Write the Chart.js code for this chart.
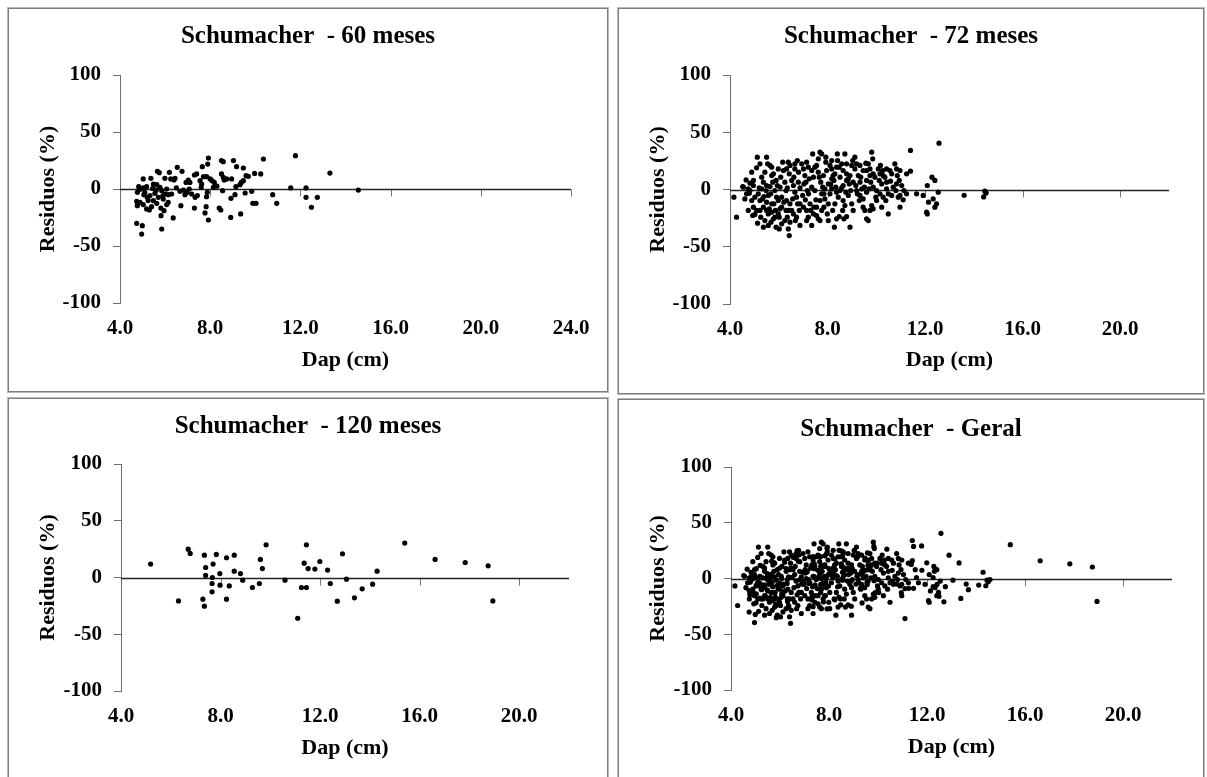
<!DOCTYPE html>
<html lang="pt">
<head>
<meta charset="utf-8">
<title>Schumacher - resíduos por Dap</title>
<script src="https://cdn.jsdelivr.net/npm/chart.js@4.4.1/dist/chart.umd.min.js"></script>
<style>
  html, body { margin: 0; padding: 0; background: #fff; }
  body { width: 1207px; height: 777px; position: relative; overflow: hidden; }
  .painel {
    position: absolute;
    box-sizing: border-box;
    border: 1px solid #b8b8b8;
    box-shadow: inset 0 0 0 1px #7c7c7c;
    background: #fff;
  }
  .painel canvas { position: absolute; left: 1px; top: 1px; }
</style>
</head>
<body>
<div class="painel" id="p60"><canvas id="c60"></canvas></div>
<div class="painel" id="p72"><canvas id="c72"></canvas></div>
<div class="painel" id="p120"><canvas id="c120"></canvas></div>
<div class="painel" id="pGeral"><canvas id="cGeral"></canvas></div>

<script>
// Resíduos (%) do modelo de Schumacher contra o Dap (cm), por idade.
// Cada ponto: [dap, residuo]

const RES_60 = [
  [7.92, 27.2], [7.89, 21.9], [7.65, 19.6], [8.50, 24.9], [8.58, 24.0], [9.03, 24.9], [9.17, 19.6],
  [9.47, 18.4], [10.36, 26.3], [11.78, 29.2], [13.31, 14.0], [6.54, 19.0], [6.75, 15.5], [6.19, 14.6],
  [5.66, 15.5], [5.74, 14.3], [5.37, 9.4], [5.03, 8.8], [9.97, 13.7], [10.24, 13.2], [9.59, 11.7],
  [9.69, 11.1], [8.50, 13.2], [8.58, 10.2], [8.62, 7.9], [8.73, 8.8], [8.95, 8.8], [7.30, 12.3],
  [7.40, 13.2], [7.03, 7.9], [6.93, 5.8], [7.10, 5.8], [7.70, 10.8], [7.84, 10.8], [8.00, 8.8],
  [8.08, 7.3], [8.18, 5.8], [7.55, 7.3], [7.62, 4.4], [6.25, 8.8], [6.39, 7.9], [6.44, 9.4],
  [5.99, 9.4], [9.38, 5.8], [9.47, 7.3], [9.32, 3.8], [9.14, 2.0], [11.57, 0.9], [12.25, 0.9],
  [14.57, -0.9], [4.83, 2.0], [4.89, -0.3], [4.77, -2.9], [5.03, 0.9], [5.18, 2.0], [5.48, 4.4],
  [5.63, 3.8], [5.77, 1.5], [5.85, -1.5], [6.00, -4.4], [6.14, -5.0], [6.29, -4.4], [6.66, -2.0],
  [6.81, -0.9], [6.88, -5.0], [6.98, -2.9], [7.07, 0.0], [7.18, -4.4], [7.33, -7.3], [7.43, -5.8],
  [7.84, -6.7], [7.87, -2.9], [8.14, 1.5], [8.55, -1.5], [8.92, -8.2], [9.10, -5.0], [9.55, -3.5],
  [9.84, -2.0], [9.89, -12.6], [10.03, -12.6], [10.77, -5.0], [10.95, -12.6], [12.25, -7.3],
  [12.75, -7.3], [12.49, -16.0], [4.74, -10.8], [4.77, -14.6], [4.89, -11.7], [5.03, -13.7],
  [5.18, -17.5], [5.30, -18.4], [5.40, -15.5], [5.48, -10.2], [5.63, -12.6], [5.70, -7.3],
  [5.92, -8.8], [5.81, -16.7], [5.95, -19.0], [6.07, -13.7], [6.14, -11.7], [6.70, -14.6],
  [7.30, -16.7], [7.82, -15.5], [7.77, -21.0], [7.92, -27.2], [8.40, -16.7], [8.47, -18.4],
  [8.91, -24.9], [9.35, -21.9], [5.82, -23.4], [6.36, -25.4], [4.74, -30.1], [4.99, -32.2],
  [4.96, -39.5], [5.85, -35.1], [5.06, -5.0], [5.21, -7.3], [5.33, -5.8], [5.55, -3.8], [6.07, 0.0],
  [5.10, -3.0], [5.45, 0.5], [5.60, -1.0], [5.90, -6.0], [5.25, -10.0], [4.78, -13.0], [6.50, 1.0],
  [7.60, 1.5], [8.30, 2.5]
];

const RES_72 = [
  [4.16, -6.7], [4.27, -24.2], [4.52, 2.6], [4.66, 8.4], [4.82, -0.9], [4.89, 15.1], [4.96, 3.5],
  [5.02, -6.7], [4.93, -22.7], [5.02, -21.8], [5.09, -18.3], [4.79, -3.2], [5.12, 28.2], [5.09, 18.9],
  [4.82, 5.5], [4.96, 7.9], [4.75, 0.6], [5.16, -3.8], [5.20, 1.5], [5.23, -9.6], [5.13, -29.4],
  [5.26, -24.2],
  [5.30, 10.8], [5.37, 6.4], [5.43, 15.1], [5.50, 28.2], [5.54, 22.4], [5.64, 21.0], [5.48, -0.9],
  [5.57, -5.2], [5.67, -3.8], [5.71, -12.5], [5.61, -16.9], [5.50, -18.3], [5.43, -27.1], [5.57, -31.4],
  [5.68, -28.5], [5.78, -25.6], [5.37, -32.9], [5.33, -8.2], [5.75, 6.4], [5.71, 12.2], [5.78, 13.7],
  [5.64, 2.6], [5.50, 3.5], [5.39, -6.1],
  [5.84, -0.9], [5.91, -6.7], [5.98, -9.6], [6.05, -16.9], [6.02, -24.2], [6.12, -30.0], [6.19, 16.6],
  [6.16, 23.9], [6.08, 10.8], [6.25, 6.4], [6.30, -0.9], [6.32, -9.6], [5.89, 7.9], [5.94, 3.5],
  [6.05, 2.0], [6.12, -6.7], [6.21, -11.1], [6.30, -18.3], [6.35, -24.2], [5.98, 18.0], [5.80, -12.5],
  [5.86, -18.3], [5.89, -32.9], [6.02, -34.4],
  [6.39, 23.9], [6.46, 21.0], [6.43, 13.7], [6.53, 7.9], [6.60, 3.5], [6.66, -2.3], [6.73, -6.7],
  [6.77, -12.5], [6.53, -18.3], [6.46, -28.5], [6.39, -34.4], [6.43, -40.2], [6.66, 22.4], [6.76, 25.3],
  [6.81, 15.1], [6.62, 10.8], [6.35, 1.5], [6.57, -8.2], [6.68, -27.1], [6.87, -31.4], [6.84, -18.3],
  [6.80, 6.4], [6.87, 1.5],
  [6.94, 22.4], [7.01, 18.0], [7.07, 12.2], [7.11, 6.4], [7.17, -0.9], [7.22, -3.8], [7.28, -12.5],
  [7.31, -18.3], [7.14, -27.1], [7.35, -31.4], [7.39, 31.1], [7.21, 19.5], [7.03, 4.9], [6.98, -5.2],
  [7.09, -9.0], [7.42, 10.8], [7.35, 2.0], [7.25, 9.3],
  [7.48, 19.5], [7.55, 21.0], [7.62, 15.1], [7.69, 32.6], [7.76, 31.1], [7.66, 10.8], [7.72, 6.4],
  [7.80, 2.0], [7.85, -3.8], [7.89, -8.2], [7.55, -22.7], [7.62, -25.6], [7.69, -27.1], [7.76, -18.3],
  [7.85, -15.4], [7.93, 28.2], [7.93, 23.9], [7.48, -0.9], [7.52, -9.0], [7.44, -15.4], [7.83, 12.2],
  [7.96, 16.6], [7.99, -21.3], [8.03, -27.1], [8.03, -12.5],
  [8.10, 21.0], [8.17, 18.0], [8.23, 12.2], [8.26, 7.9], [8.34, 2.0], [8.37, -2.3], [8.44, -6.7],
  [8.30, -12.5], [8.21, -18.3], [8.28, -32.9], [8.10, -3.8], [8.40, 31.1], [8.41, 25.3], [8.48, 19.5],
  [8.51, 10.8], [8.13, 4.4], [8.17, 0.6], [8.48, -23.6], [8.37, -25.6],
  [8.58, 22.4], [8.64, 16.6], [8.71, 31.1], [8.78, 13.7], [8.85, 9.3], [8.89, 4.9], [8.95, -0.9],
  [8.64, -9.6], [8.71, -14.0], [8.62, -18.3], [8.78, -23.6], [8.67, -25.6], [8.92, -32.9], [8.99, 21.0],
  [9.03, 25.3], [8.85, -5.2], [8.99, -12.5], [9.05, -18.3], [8.58, 1.5], [8.75, -2.3],
  [9.12, 18.0], [9.19, 22.4], [9.26, 12.2], [9.33, 6.4], [9.40, 0.6], [9.22, -3.8], [9.30, -9.6],
  [9.46, -15.4], [9.53, -18.3], [9.36, 10.8], [9.46, 16.6], [9.57, 23.0], [9.16, 3.5], [9.60, -2.3],
  [9.51, 2.0],
  [9.67, 22.4], [9.74, 18.0], [9.81, 32.6], [9.85, 26.8], [9.87, 13.7], [9.94, 10.8], [9.77, 6.4],
  [9.71, 0.6], [9.81, -14.0], [9.74, -18.3], [9.87, -16.9], [9.98, -6.7], [10.01, -0.9], [10.08, 18.0],
  [10.12, 7.9], [9.60, -25.6], [9.67, -27.1],
  [10.17, 21.0], [10.26, 16.6], [10.28, 12.2], [10.35, 10.8], [10.22, 4.9], [10.42, 0.6], [10.49, -3.8],
  [10.39, -9.6], [10.22, -15.4], [10.56, 16.6], [10.63, 13.7], [10.49, -21.3], [10.58, 7.3], [10.69, 2.0],
  [10.76, 22.4], [10.83, 18.0], [10.86, 12.2], [10.94, 7.9], [10.80, -0.9], [10.90, -6.7], [10.97, -5.2],
  [11.04, 3.5], [11.10, -9.0], [11.13, -0.9], [11.40, 34.1], [11.40, 16.0],
  [11.65, -3.8], [11.92, -5.2], [12.09, 3.5], [12.14, -11.1], [12.06, -19.8], [12.09, -21.3], [12.28, 10.8],
  [12.40, 7.9], [12.40, -15.4], [12.47, -12.5], [12.57, 40.5], [12.54, -2.3], [12.33, -8.2], [13.60, -5.0],
  [14.40, -6.5], [14.50, -3.0], [14.45, -1.5],
  // miolo da nuvem
  [4.55, 2.0], [4.68, -3.8], [4.61, -8.2], [4.75, -18.3], [4.96, -15.4], [4.89, -9.6], [5.30, 0.6],
  [5.37, -15.4], [5.23, -18.3], [5.50, -11.1], [5.57, -21.3], [5.71, -19.8], [5.84, -24.2], [5.98, -21.3],
  [6.12, -15.4], [6.25, -27.1], [6.39, -18.3], [6.46, -12.5], [6.60, -21.3], [6.73, -24.2], [6.87, -12.5],
  [7.01, -15.4], [7.14, -18.3], [7.21, -24.2], [7.42, -21.3], [7.55, -15.4], [7.69, -9.6], [7.76, -3.8],
  [7.89, 0.6], [8.03, 4.9], [8.17, 9.3], [8.30, 13.7], [8.37, 19.5], [8.51, -0.9], [8.64, 3.5],
  [8.78, 7.9], [8.92, 12.2], [9.05, 6.4], [9.19, -0.9], [9.33, -5.2], [9.46, -8.2], [9.60, 7.9],
  [9.74, 12.2], [9.87, 2.0], [10.01, -9.6], [10.15, -3.8], [10.28, -6.7], [10.42, 6.4], [10.63, -5.2],
  [10.83, 4.9], [11.24, -3.8], [10.97, -15.4],
  [5.23, 22.4], [5.71, 19.5], [6.32, 18.0], [6.66, 18.0], [7.14, 23.9], [7.35, 16.6], [7.62, 26.8],
  [8.17, 25.3], [8.78, 22.4], [9.12, 28.2], [9.33, 21.0], [9.60, 16.6], [10.15, 13.7], [10.42, 18.0],
  [10.97, 16.6], [11.24, 13.7]
];

const RES_120 = [
  [5.19, 11.8], [6.31, -20.6], [6.70, 25.0], [6.78, 21.2], [7.29, -19.1], [7.35, -25.3], [7.35, 19.7],
  [7.40, 8.8], [7.40, 1.8], [7.70, 11.8], [7.67, 0.0], [7.66, -5.3], [7.66, -12.6], [7.83, 20.3],
  [7.97, 3.5], [7.98, -6.8], [8.24, 17.4], [8.24, -19.1], [8.35, -7.4], [8.55, 19.7], [8.55, 5.6],
  [8.80, 3.5], [8.89, -2.4], [9.28, -8.8], [9.56, -5.3], [9.60, 15.9], [9.68, 7.9], [9.83, 28.8],
  [10.59, -2.4], [11.10, -35.9], [11.25, -8.8], [11.36, 12.6], [11.45, 28.8], [11.45, -8.8],
  [11.52, 7.9], [11.79, 7.4], [11.99, 14.1], [12.30, 6.5], [12.41, -5.3], [12.69, -20.9], [12.90, 20.9],
  [13.06, -1.5], [13.38, -17.9], [13.69, -10.0], [14.11, -5.9], [14.29, 5.6], [15.40, 30.3],
  [16.62, 15.9], [17.83, 13.2], [18.75, 10.3], [18.94, -20.6]
];

// Geral = todas as idades juntas
const RES_GERAL = RES_60.concat(RES_72, RES_120);

const Y_RANGE = [-100, 100];
const FONTE = "'Liberation Serif', 'Times New Roman', serif";

// posição das caixas na página e da área do gráfico dentro do canvas
const PAINEIS = [
  { id: '60',    titulo: 'Schumacher  - 60 meses',  dados: RES_60,    xMax: 24,
    box: [7, 7, 602, 386],   area: { left: 111, top: 66, right: 562, bottom: 294 }, tituloY: 28, dapY: 351 },
  { id: '72',    titulo: 'Schumacher  - 72 meses',  dados: RES_72,    xMax: 22,
    box: [617, 7, 588, 388], area: { left: 111, top: 66, right: 550, bottom: 295 }, tituloY: 28, dapY: 351 },
  { id: '120',   titulo: 'Schumacher  - 120 meses', dados: RES_120,   xMax: 22,
    box: [7, 397, 602, 400], area: { left: 112, top: 65, right: 560, bottom: 292 }, tituloY: 28, dapY: 349 },
  { id: 'Geral', titulo: 'Schumacher  - Geral',     dados: RES_GERAL, xMax: 22,
    box: [617, 398, 588, 400], area: { left: 112, top: 67, right: 553, bottom: 290 }, tituloY: 30, dapY: 347 }
];

// linha do eixo X cruzando em zero, com marcas para baixo
const eixoZero = {
    id: 'eixoZero',
    beforeDatasetsDraw(chart) {
        const { ctx, chartArea, scales: { x, y } } = chart;
        const y0 = Math.round(y.getPixelForValue(0)) + 0.5;
        ctx.save();
        ctx.lineWidth = 1;
        ctx.strokeStyle = '#7a7a7a';
        ctx.beginPath();
        x.ticks.forEach(t => {
            if (t.value <= x.min) return;
            const px = Math.round(x.getPixelForValue(t.value)) + 0.5;
            ctx.moveTo(px, y0);
            ctx.lineTo(px, y0 + 7);
        });
        ctx.stroke();
        ctx.strokeStyle = '#222';
        ctx.lineWidth = 1.4;
        ctx.beginPath();
        ctx.moveTo(chartArea.left, y0);
        ctx.lineTo(chartArea.right, y0);
        ctx.stroke();
        ctx.restore();
    }
};

function buildPanel(p) {
    const div = document.getElementById('p' + p.id);
    const [bx, by, bw, bh] = p.box;
    div.style.left = bx + 'px';
    div.style.top = by + 'px';
    div.style.width = bw + 'px';
    div.style.height = bh + 'px';

    const canvas = document.getElementById('c' + p.id);
    const w = bw - 4;
    const h = bh - 4;
    canvas.width = w;
    canvas.height = h;
    canvas.style.width = w + 'px';
    canvas.style.height = h + 'px';

    const tituloTop = p.tituloY - 15;
    const tituloBottom = p.area.top - tituloTop - 30;

    new Chart(canvas.getContext('2d'), {
        type: 'scatter',
        data: {
            datasets: [{
                data: p.dados.map(([x, y]) => ({ x, y })),
                backgroundColor: '#000',
                borderColor: '#000',
                borderWidth: 0,
                pointRadius: 2.6,
                pointHoverRadius: 2.6
            }]
        },
        options: {
            responsive: false,
            animation: false,
            devicePixelRatio: 1,
            layout: { padding: 0 },
            events: [],
            plugins: {
                legend: { display: false },
                tooltip: { enabled: false },
                title: {
                    display: true,
                    text: p.titulo,
                    color: '#000',
                    font: { family: FONTE, size: 25, weight: 'bold' },
                    padding: { top: tituloTop, bottom: tituloBottom }
                }
            },
            scales: {
                x: {
                    type: 'linear',
                    position: 'bottom',
                    min: 4,
                    max: p.xMax,
                    afterFit: s => { s.height = h - p.area.bottom; },
                    grid: { display: false, drawTicks: false },
                    border: { display: false },
                    ticks: {
                        stepSize: 4,
                        includeBounds: false,
                        autoSkip: false,
                        maxRotation: 0,
                        padding: 13,
                        color: '#000',
                        font: { family: FONTE, size: 21, weight: 'bold' },
                        callback: v => v.toFixed(1)
                    },
                    title: {
                        display: true,
                        text: 'Dap (cm)',
                        color: '#000',
                        font: { family: FONTE, size: 22, weight: 'bold' },
                        padding: { top: 0, bottom: h - p.dapY - 13.2 }
                    }
                },
                y: {
                    type: 'linear',
                    position: 'left',
                    min: Y_RANGE[0],
                    max: Y_RANGE[1],
                    afterFit: s => { s.width = p.area.left; },
                    grid: { display: true, drawOnChartArea: false, drawTicks: true, tickLength: 7, color: '#6e6e6e' },
                    border: { display: true, color: '#6e6e6e' },
                    ticks: {
                        stepSize: 50,
                        padding: 12,
                        color: '#000',
                        font: { family: FONTE, size: 21, weight: 'bold' }
                    },
                    title: {
                        display: true,
                        text: 'Residuos (%)',
                        color: '#000',
                        font: { family: FONTE, size: 22, weight: 'bold' },
                        padding: { top: 26, bottom: 0 }
                    }
                },
                // só reserva o espaço à direita, para o título ficar no centro da caixa
                yFolga: {
                    type: 'linear',
                    position: 'right',
                    min: Y_RANGE[0],
                    max: Y_RANGE[1],
                    afterFit: s => { s.width = w - p.area.right; },
                    grid: { display: false, drawTicks: false },
                    border: { display: false },
                    ticks: { display: false }
                }
            }
        },
        plugins: [eixoZero]
    });
}

PAINEIS.forEach(buildPanel);
</script>
</body>
</html>
